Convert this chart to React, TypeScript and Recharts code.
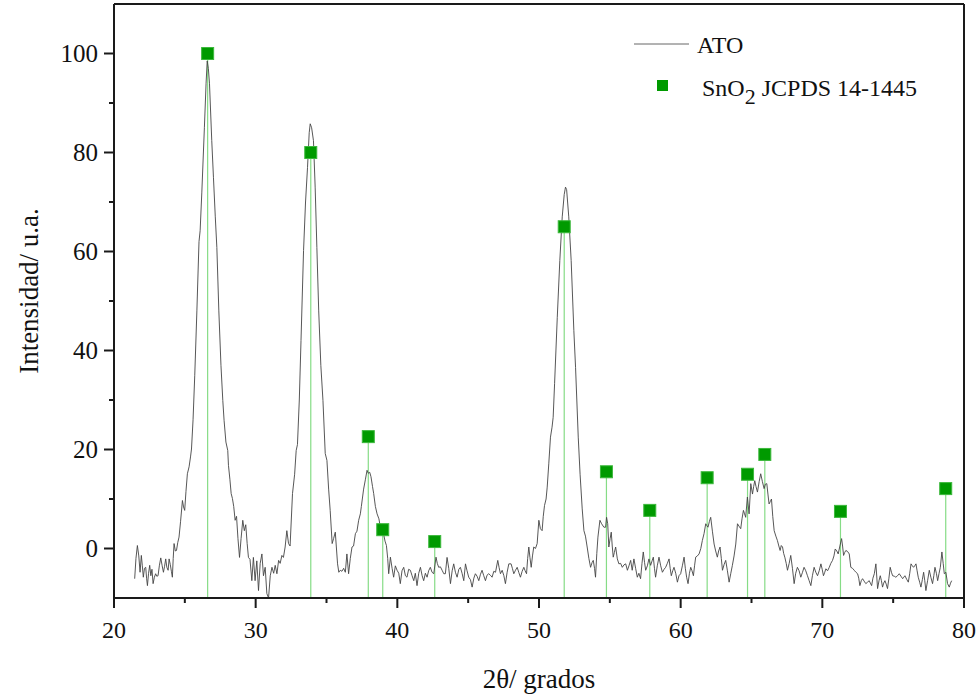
import {
  ComposedChart,
  Label,
  Legend,
  Line,
  ReferenceLine,
  Scatter,
  XAxis,
  YAxis,
} from "recharts"

// ATO diffractogram, [2θ, intensity]
const atoScan: [number, number][] = [
  [21.46, -6.1], [21.55, -2.0], [21.65, 0.6], [21.75, -1.5], [21.84, -4.8], [21.93, -1.4], [22.0, -3.5], [22.07, -5.8],
  [22.15, -4.0], [22.24, -3.8], [22.3, -6.0], [22.36, -7.5], [22.44, -5.0], [22.52, -3.4], [22.6, -5.5], [22.68, -4.2],
  [22.76, -7.1], [22.85, -5.8], [22.94, -5.1], [23.02, -5.6], [23.11, -5.5], [23.2, -3.5], [23.3, -1.9], [23.4, -3.5],
  [23.49, -4.8], [23.57, -3.6], [23.65, -2.1], [23.73, -3.8], [23.82, -4.4], [23.89, -2.1], [23.97, -3.2], [24.05, -4.6],
  [24.12, -5.8], [24.18, -2.0], [24.24, 1.0], [24.33, -0.5], [24.41, -0.4], [24.5, 1.2], [24.59, 2.3], [24.7, 5.5],
  [24.83, 9.7], [24.91, 8.4], [24.99, 7.7], [25.08, 11.5], [25.18, 15.1], [25.3, 16.5], [25.4, 18.5], [25.47, 20.1],
  [25.58, 26.0], [25.7, 35.0], [25.85, 48.0], [26.0, 62.0], [26.08, 64.2], [26.2, 72.0], [26.38, 85.0], [26.5, 94.0],
  [26.58, 98.5], [26.66, 97.0], [26.74, 94.0], [26.9, 82.4], [27.02, 75.0], [27.15, 67.0], [27.26, 60.8], [27.4, 48.0],
  [27.55, 37.0], [27.68, 29.9], [27.77, 25.9], [27.9, 21.5], [28.03, 19.8], [28.08, 16.8], [28.18, 14.0], [28.27, 11.1],
  [28.36, 10.1], [28.45, 8.5], [28.55, 5.7], [28.65, 6.5], [28.75, 2.0], [28.86, -1.8], [28.97, 2.0], [29.09, 5.7],
  [29.2, 3.6], [29.3, 4.8], [29.4, 1.0], [29.49, -1.8], [29.6, -2.2], [29.73, -6.5], [29.84, -1.8], [29.96, -6.5],
  [30.08, -2.5], [30.2, -8.5], [30.32, -3.0], [30.44, -1.1], [30.55, -5.5], [30.67, -3.8], [30.79, -9.1], [30.91, -10.0],
  [31.03, -5.5], [31.15, -3.8], [31.27, -5.0], [31.38, -3.4], [31.5, -5.1], [31.62, -2.4], [31.73, -3.0], [31.85, -1.4],
  [31.96, -1.8], [32.08, 0.3], [32.2, 3.6], [32.32, 1.0], [32.43, 0.5], [32.6, 11.1], [32.75, 15.0], [32.86, 19.8],
  [32.95, 21.0], [33.08, 30.0], [33.2, 42.0], [33.38, 60.2], [33.52, 70.0], [33.66, 77.0], [33.78, 84.0], [33.85, 85.8],
  [33.95, 85.0], [34.08, 82.4], [34.2, 73.0], [34.32, 60.8], [34.45, 48.0], [34.6, 37.0], [34.75, 29.9], [34.91, 19.2],
  [35.03, 17.8], [35.15, 12.0], [35.26, 7.7], [35.4, 1.0], [35.5, 2.0], [35.62, 3.3], [35.78, -3.1], [35.87, -4.8],
  [35.97, -4.4], [36.09, -4.6], [36.21, -4.0], [36.33, -4.8], [36.44, -1.1], [36.56, -5.1], [36.68, -2.0], [36.8, 0.3],
  [36.91, 0.5], [37.04, 3.0], [37.15, 3.5], [37.27, 5.7], [37.39, 7.0], [37.46, 8.5], [37.62, 12.0], [37.75, 14.0],
  [37.86, 15.8], [37.95, 15.2], [38.05, 15.4], [38.14, 14.5], [38.25, 12.5], [38.33, 11.1], [38.45, 8.5], [38.57, 7.0],
  [38.7, 6.0], [38.8, 4.3], [38.92, 3.5], [39.04, 2.8], [39.13, 1.5], [39.23, 0.6], [39.32, -2.0], [39.39, -5.1],
  [39.51, -1.75], [39.63, -4.0], [39.74, -5.8], [39.86, -3.5], [39.98, -4.4], [40.1, -5.0], [40.21, -7.1], [40.33, -4.5],
  [40.45, -3.8], [40.57, -5.5], [40.68, -5.8], [40.8, -4.2], [40.92, -4.4], [41.04, -5.5], [41.16, -6.5], [41.27, -5.0],
  [41.39, -7.5], [41.51, -5.0], [41.63, -3.8], [41.75, -5.5], [41.86, -6.5], [41.98, -5.0], [42.1, -5.8], [42.21, -4.5],
  [42.33, -3.8], [42.45, -4.8], [42.57, -5.1], [42.73, -1.75], [42.82, -3.0], [42.92, -3.8], [43.04, -3.7], [43.16, -4.4],
  [43.28, -5.1], [43.39, -5.1], [43.51, -1.8], [43.63, -4.0], [43.75, -7.1], [43.87, -4.5], [43.98, -3.1], [44.1, -4.8],
  [44.22, -5.8], [44.34, -4.2], [44.45, -3.8], [44.57, -5.0], [44.69, -6.5], [44.81, -3.1], [44.92, -4.5], [45.04, -5.8],
  [45.16, -6.3], [45.28, -7.8], [45.4, -6.0], [45.51, -5.1], [45.63, -5.6], [45.75, -6.5], [45.87, -5.2], [45.98, -4.4],
  [46.1, -5.5], [46.22, -6.5], [46.33, -5.4], [46.45, -5.1], [46.57, -5.4], [46.69, -5.8], [46.81, -4.6], [46.93, -4.8],
  [47.09, -2.4], [47.18, -3.8], [47.28, -5.1], [47.4, -4.4], [47.52, -5.5], [47.63, -7.1], [47.75, -4.8], [47.87, -3.1],
  [48.03, -3.1], [48.12, -4.0], [48.22, -5.1], [48.34, -4.4], [48.46, -3.8], [48.57, -4.8], [48.69, -5.8], [48.81, -4.6],
  [48.93, -3.8], [49.02, -4.5], [49.12, -5.1], [49.2, -2.0], [49.28, 0.3], [49.36, -1.8], [49.45, -3.8], [49.54, -1.5],
  [49.63, 0.3], [49.75, 0.0], [49.87, 1.0], [49.99, 5.7], [50.1, 4.0], [50.22, 3.6], [50.3, 6.5], [50.39, 8.7],
  [50.5, 10.0], [50.58, 12.4], [50.69, 17.1], [50.81, 22.5], [50.92, 24.5], [51.0, 26.5], [51.1, 33.3], [51.29, 46.7],
  [51.47, 58.2], [51.64, 67.0], [51.78, 71.5], [51.87, 73.0], [51.95, 72.5], [52.1, 67.0], [52.27, 58.2], [52.46, 44.0],
  [52.58, 36.6], [52.77, 22.5], [52.9, 15.0], [53.05, 8.0], [53.17, 3.6], [53.28, 2.5], [53.4, 0.3], [53.52, -2.0],
  [53.64, -3.8], [53.75, -2.8], [53.83, -2.4], [53.92, -4.0], [53.99, -5.8], [54.08, -1.0], [54.16, 2.3], [54.3, 5.7],
  [54.42, 5.0], [54.58, 4.3], [54.7, 4.3], [54.77, 6.3], [54.85, 5.0], [54.93, 0.3], [55.02, 2.0], [55.1, 3.3],
  [55.17, 0.5], [55.24, -1.75], [55.32, -0.8], [55.41, 0.3], [55.53, -2.1], [55.64, -3.1], [55.76, -3.0], [55.88, -3.8],
  [56.0, -3.3], [56.12, -3.1], [56.24, -4.4], [56.35, -3.5], [56.47, -2.4], [56.58, -4.4], [56.7, -2.1], [56.82, -4.0],
  [56.94, -5.8], [57.05, -5.0], [57.17, -6.1], [57.27, -3.0], [57.36, -0.7], [57.45, -2.8], [57.53, -4.4], [57.65, -3.5],
  [57.76, -2.1], [57.88, -3.4], [57.98, -2.5], [58.07, -1.75], [58.15, -4.0], [58.23, -5.8], [58.35, -3.5], [58.47, -1.75],
  [58.59, -3.5], [58.71, -4.8], [58.83, -4.2], [58.94, -3.8], [59.06, -3.0], [59.18, -2.1], [59.26, -4.0], [59.34, -5.5],
  [59.44, -4.5], [59.53, -3.8], [59.65, -5.0], [59.77, -6.8], [59.88, -5.5], [60.0, -5.1], [60.12, -3.5], [60.24, -1.75],
  [60.33, -4.0], [60.42, -5.8], [60.52, -7.1], [60.62, -5.0], [60.71, -3.8], [60.8, -4.5], [60.9, -5.5], [60.98, -3.5],
  [61.06, -1.75], [61.18, -1.5], [61.3, -1.1], [61.42, 0.0], [61.53, 1.6], [61.65, 3.0], [61.77, 5.0], [61.85, 4.6],
  [61.93, 4.3], [62.03, 5.5], [62.12, 6.3], [62.24, 3.5], [62.36, 0.9], [62.47, -0.5], [62.59, -1.75], [62.68, -0.5],
  [62.78, 0.3], [62.87, -2.0], [62.95, -4.4], [63.07, -3.2], [63.18, -2.4], [63.3, -4.5], [63.42, -6.8], [63.54, -5.0],
  [63.65, -3.4], [63.77, -1.5], [63.89, 0.9], [64.01, 5.0], [64.12, 4.5], [64.24, 4.0], [64.33, 6.0], [64.43, 7.7],
  [64.51, 7.0], [64.59, 6.3], [64.71, 10.4], [64.83, 7.0], [64.95, 13.1], [65.07, 11.0], [65.15, 12.5], [65.23, 13.7],
  [65.32, 12.5], [65.42, 11.4], [65.54, 13.5], [65.65, 15.1], [65.77, 13.5], [65.89, 12.1], [65.98, 13.0], [66.08, 13.1],
  [66.16, 11.0], [66.24, 9.0], [66.33, 9.5], [66.41, 10.0], [66.5, 6.5], [66.6, 3.6], [66.72, 2.5], [66.83, 1.6],
  [66.93, 0.5], [67.02, -0.4], [67.1, 0.6], [67.19, 0.3], [67.27, -1.0], [67.35, -1.75], [67.45, -3.0], [67.54, -4.4],
  [67.66, -3.0], [67.77, -1.4], [67.89, -4.0], [68.01, -7.1], [68.12, -5.0], [68.24, -3.8], [68.36, -4.5], [68.48, -5.8],
  [68.6, -4.8], [68.71, -3.8], [68.83, -4.5], [68.95, -5.5], [69.07, -6.5], [69.19, -7.5], [69.3, -5.5], [69.42, -3.8],
  [69.54, -4.8], [69.66, -5.5], [69.78, -4.5], [69.9, -3.1], [69.99, -4.2], [70.08, -5.5], [70.17, -4.8], [70.25, -4.1],
  [70.37, -4.5], [70.49, -3.8], [70.6, -3.0], [70.72, -2.4], [70.82, -1.5], [70.91, -0.1], [71.02, -0.5], [71.12, -1.1],
  [71.24, 0.5], [71.36, 2.0], [71.43, 0.5], [71.5, -1.4], [71.58, -0.8], [71.66, -0.4], [71.78, -0.6], [71.9, -1.1],
  [72.01, -3.8], [72.13, -4.0], [72.25, -4.4], [72.37, -4.8], [72.49, -5.1], [72.57, -6.0], [72.65, -7.5], [72.75, -6.5],
  [72.84, -6.1], [72.95, -6.6], [73.07, -7.1], [73.19, -6.8], [73.31, -6.5], [73.39, -7.0], [73.48, -7.5], [73.57, -6.0],
  [73.67, -5.1], [73.78, -3.1], [73.9, -8.1], [74.0, -6.5], [74.09, -5.5], [74.17, -6.5], [74.25, -7.8], [74.33, -7.0],
  [74.42, -6.5], [74.51, -7.2], [74.6, -8.1], [74.7, -6.0], [74.79, -3.8], [74.88, -4.8], [74.96, -5.5], [75.08, -5.6],
  [75.19, -5.8], [75.31, -5.5], [75.43, -5.1], [75.55, -5.6], [75.67, -6.1], [75.75, -5.8], [75.83, -5.5], [75.95, -6.2],
  [76.07, -6.8], [76.17, -5.0], [76.26, -3.1], [76.35, -3.5], [76.44, -3.8], [76.52, -3.5], [76.61, -3.1], [76.69, -4.5],
  [76.77, -5.8], [76.87, -6.8], [76.96, -7.8], [77.06, -6.3], [77.15, -4.8], [77.23, -6.5], [77.31, -8.5], [77.43, -6.5],
  [77.55, -4.4], [77.66, -5.8], [77.78, -7.1], [77.87, -5.5], [77.95, -3.8], [78.05, -5.0], [78.14, -6.5], [78.24, -5.0],
  [78.33, -3.8], [78.44, -0.7], [78.53, -3.0], [78.61, -5.1], [78.72, -4.8], [78.84, -7.1], [78.96, -7.8], [79.05, -7.0],
  [79.13, -6.5],
]

// SnO2 reference pattern (JCPDS 14-1445)
const refTheta = [26.61, 33.89, 37.95, 38.97, 42.64, 51.78, 54.76, 57.82, 61.87, 64.72, 65.94, 71.28, 78.71]
const refIntensity = [100, 80, 22.6, 3.8, 1.4, 65, 15.5, 7.7, 14.3, 15, 19, 7.5, 12.1]

const xTicks = [20, 25, 30, 35, 40, 45, 50, 55, 60, 65, 70, 75, 80]
const yTicks = [0, 10, 20, 30, 40, 50, 60, 70, 80, 90, 100]

const FONT = "'Liberation Serif', 'Times New Roman', serif"
const INK = "#1a1a1a"

const atoData = atoScan.map(([x, y]) => ({ x, y }))
const refData = refTheta.map((x, i) => ({ x, y: refIntensity[i] }))

function XTick({ x, y, payload }: any) {
  const major = payload.value % 10 === 0
  return (
    <g>
      <line x1={x} y1={y} x2={x} y2={y + (major ? 10 : 5)} stroke={INK} strokeWidth={2} />
      {major && (
        <text x={x} y={y + 40} textAnchor="middle" fontSize={24} fontFamily={FONT} fill="#111">
          {payload.value}
        </text>
      )}
    </g>
  )
}

function YTick({ x, y, payload }: any) {
  const major = payload.value % 20 === 0
  return (
    <g>
      <line x1={x} y1={y} x2={x - (major ? 10 : 5)} y2={y} stroke={INK} strokeWidth={2} />
      {major && (
        <text x={x - 16} y={y + 8} textAnchor="end" fontSize={25} fontFamily={FONT} fill="#111">
          {payload.value}
        </text>
      )}
    </g>
  )
}

function SquareMark({ cx, cy }: { cx?: number; cy?: number }) {
  if (cx == null || cy == null) return null
  return (
    <rect x={cx - 6} y={cy - 6} width={12} height={12} fill="#009a00" stroke="#3cb83c" strokeWidth={1} />
  )
}

function LegendBox() {
  return (
    <svg width={340} height={100} style={{ display: "block" }}>
      <line x1={14} y1={24} x2={69} y2={24} stroke="#666" strokeWidth={1} />
      <text x={77} y={33} fontSize={24} fontFamily={FONT} fill="#111">
        ATO
      </text>
      <rect x={37} y={60} width={11} height={11} fill="#009a00" />
      <text x={82} y={76} fontSize={24} fontFamily={FONT} fill="#111">
        SnO
        <tspan dy={8} fontSize={22}>
          2
        </tspan>
        <tspan dy={-8}> JCPDS 14-1445</tspan>
      </text>
    </svg>
  )
}

export default function App() {
  return (
    <div style={{ position: "absolute", left: 0, top: 0, width: 979, height: 694, background: "#fff" }}>
      <ComposedChart width={979} height={694} margin={{ top: 4, right: 15, bottom: 0, left: 0 }}>
        <XAxis
          dataKey="x"
          type="number"
          domain={[20, 80]}
          ticks={xTicks}
          interval={0}
          height={96}
          tickSize={0}
          tickMargin={0}
          tickLine={false}
          tick={<XTick />}
          axisLine={{ stroke: INK, strokeWidth: 2 }}
          allowDataOverflow
        >
          <Label
            content={({ viewBox }: any) => (
              <text
                x={viewBox.x + viewBox.width / 2}
                y={viewBox.y + 90}
                textAnchor="middle"
                fontSize={27}
                fontFamily={FONT}
                fill="#111"
              >
                2θ/ grados
              </text>
            )}
          />
        </XAxis>
        <YAxis
          type="number"
          domain={[-10, 110]}
          ticks={yTicks}
          interval={0}
          width={114}
          tickSize={0}
          tickMargin={0}
          tickLine={false}
          tick={<YTick />}
          axisLine={{ stroke: INK, strokeWidth: 2 }}
          allowDataOverflow
        >
          <Label
            content={({ viewBox }: any) => {
              const cx = 38
              const cy = viewBox.y + viewBox.height / 2 - 10
              return (
                <text
                  x={cx}
                  y={cy}
                  transform={`rotate(-90 ${cx} ${cy})`}
                  textAnchor="middle"
                  fontSize={27}
                  fontFamily={FONT}
                  fill="#111"
                >
                  Intensidad/ u.a.
                </text>
              )
            }}
          />
        </YAxis>
        <ReferenceLine y={110} stroke={INK} strokeWidth={2} />
        <ReferenceLine x={80} stroke={INK} strokeWidth={2} />
        {refTheta.map((t, i) => (
          <ReferenceLine
            key={t}
            segment={[
              { x: t, y: -10 },
              { x: t, y: refIntensity[i] },
            ]}
            stroke="#86dc86"
            strokeWidth={1.2}
            ifOverflow="visible"
          />
        ))}
        <Line
          data={atoData}
          dataKey="y"
          type="linear"
          stroke="#444"
          strokeWidth={0.9}
          dot={false}
          activeDot={false}
          isAnimationActive={false}
        />
        <Scatter data={refData} dataKey="y" shape={<SquareMark />} isAnimationActive={false} />
        <Legend
          layout="horizontal"
          verticalAlign="middle"
          align="center"
          content={<LegendBox />}
          wrapperStyle={{ top: 20, left: 620, width: 340, height: 100 }}
        />
      </ComposedChart>
    </div>
  )
}
